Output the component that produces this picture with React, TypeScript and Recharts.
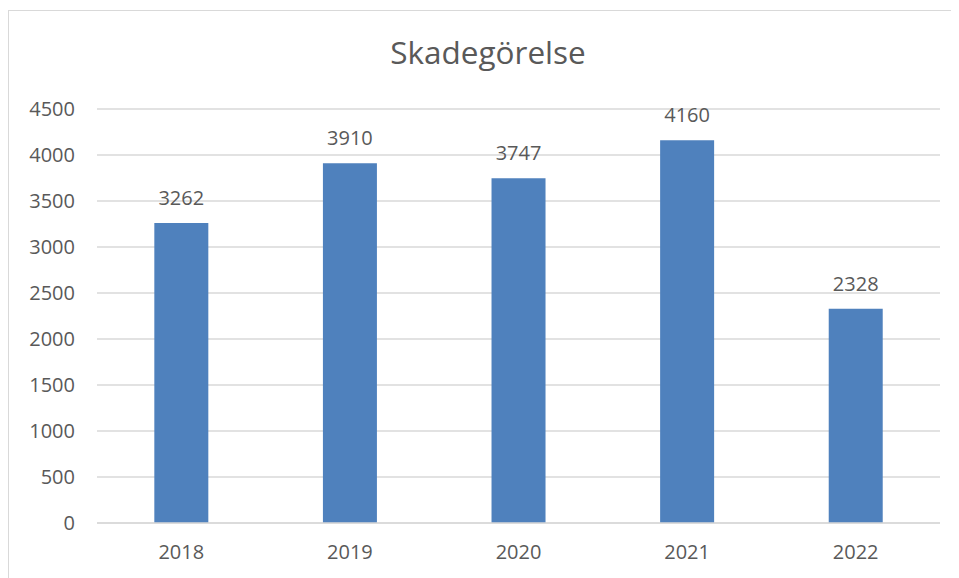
import { BarChart, Bar, XAxis, YAxis, CartesianGrid, LabelList } from 'recharts'

const years = ['2018', '2019', '2020', '2021', '2022']
const counts = [3262, 3910, 3747, 4160, 2328]
const yTicks = [0, 500, 1000, 1500, 2000, 2500, 3000, 3500, 4000, 4500]

const data = years.map((year, i) => ({ year, value: counts[i] }))

const FONT = '"Open Sans", sans-serif'
const TEXT = '#595959'

export default function App() {
  return (
    <div
      style={{
        position: 'relative',
        width: 970,
        height: 600,
        marginTop: 2,
        border: '1px solid #d9d9d9',
        boxSizing: 'border-box',
        fontFamily: FONT,
      }}
    >
      <div
        style={{
          position: 'absolute',
          top: 19,
          left: 0,
          width: 958,
          textAlign: 'center',
          fontSize: 31.5,
          color: TEXT,
        }}
      >
        Skadegörelse
      </div>
      <BarChart
        width={940}
        height={565}
        data={data}
        margin={{ top: 98, right: 9, bottom: 13, left: 0 }}
        barCategoryGap='34%'
      >
        <CartesianGrid vertical={false} stroke='#d9d9d9' strokeWidth={1.5} />
        <XAxis
          dataKey='year'
          tickLine={false}
          axisLine={{ stroke: '#d9d9d9', strokeWidth: 1.5 }}
          tick={{ fill: TEXT, fontSize: 20, fontFamily: FONT }}
          tickMargin={16}
          height={40}
        />
        <YAxis
          domain={[0, 4500]}
          ticks={yTicks}
          interval={0}
          tickLine={false}
          axisLine={false}
          tick={{ fill: TEXT, fontSize: 20, fontFamily: FONT }}
          tickSize={0}
          tickMargin={22}
          width={88}
        />
        <Bar dataKey='value' fill='#4f81bd' isAnimationActive={false}>
          <LabelList
            dataKey='value'
            position='top'
            offset={18}
            fill={TEXT}
            fontSize={20}
            fontFamily={FONT}
          />
        </Bar>
      </BarChart>
    </div>
  )
}
